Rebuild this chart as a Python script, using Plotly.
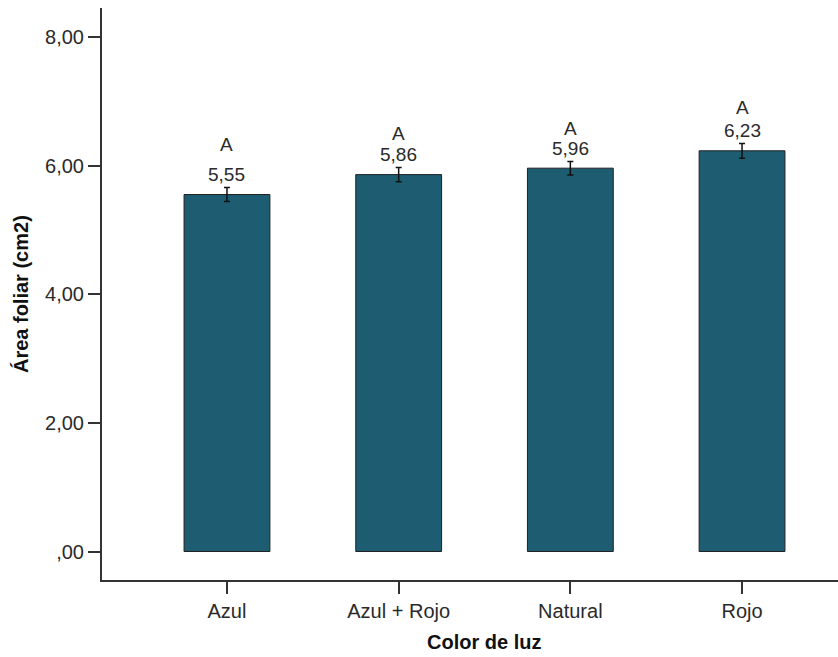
import plotly.graph_objects as go

categories = ["Azul", "Azul + Rojo", "Natural", "Rojo"]
area_foliar = [5.55, 5.86, 5.96, 6.23]
error = [0.11, 0.11, 0.105, 0.115]
value_labels = ["5,55", "5,86", "5,96", "6,23"]
letters = ["A", "A", "A", "A"]
y_tickvals = [0, 2, 4, 6, 8]
y_ticktext = [",00", "2,00", "4,00", "6,00", "8,00"]

# pixel offsets for the letter labels (style only)
letter_shift = [50, 41, 40, 43]

FONT = "Arial, Liberation Sans, sans-serif"
BAR = "#1d5c71"
TXT = "#2a2a2a"

fig = go.Figure()
fig.add_trace(go.Bar(
    x=list(range(len(categories))),
    y=area_foliar,
    width=0.5,
    marker=dict(color=BAR, line=dict(color="#222222", width=1)),
    error_y=dict(type="data", array=error, color="#111111", thickness=1.5, width=3),
    showlegend=False,
    hoverinfo="skip",
))

for i, (v, lab, let) in enumerate(zip(area_foliar, value_labels, letters)):
    fig.add_annotation(x=i, y=v, text=lab, showarrow=False, yanchor="middle",
                       yshift=20, font=dict(family=FONT, size=19, color=TXT))
    fig.add_annotation(x=i, y=v, text=let, showarrow=False, yanchor="middle",
                       yshift=letter_shift[i], font=dict(family=FONT, size=19, color=TXT))

# axis titles
fig.add_annotation(xref="paper", yref="paper", x=0.519, y=-0.1084,
                   text="<b>Color de luz</b>", showarrow=False,
                   xanchor="center", yanchor="middle",
                   font=dict(family=FONT, size=20, color="#111111"))
fig.add_annotation(xref="paper", yref="paper", x=-0.110, y=0.50,
                   text="<b>Área foliar (cm2)</b>", showarrow=False, textangle=-90,
                   xanchor="center", yanchor="middle",
                   font=dict(family=FONT, size=20, color="#111111"))

fig.update_layout(
    width=838, height=657,
    margin=dict(l=102, r=0, t=8, b=77),
    paper_bgcolor="white", plot_bgcolor="white",
    font=dict(family=FONT, size=20, color=TXT),
    bargap=0.5,
)
fig.update_xaxes(
    range=[-0.728, 3.559],
    tickvals=list(range(len(categories))), ticktext=categories,
    showline=True, linecolor="#333333", linewidth=2,
    ticks="outside", ticklen=12, tickwidth=2, tickcolor="#333333",
    showgrid=False, zeroline=False, automargin=False,
    tickfont=dict(family=FONT, size=20, color=TXT),
)
fig.update_yaxes(
    range=[-0.443, 8.45],
    tickvals=y_tickvals, ticktext=y_ticktext,
    showline=True, linecolor="#333333", linewidth=2,
    ticks="outside", ticklen=12, tickwidth=2, tickcolor="#333333",
    showgrid=False, zeroline=False, automargin=False,
    tickfont=dict(family=FONT, size=20, color=TXT),
)

fig.write_html("out.html",
               config={"displayModeBar": False},
               post_script="document.body.style.margin='0';document.body.style.overflow='hidden';")
